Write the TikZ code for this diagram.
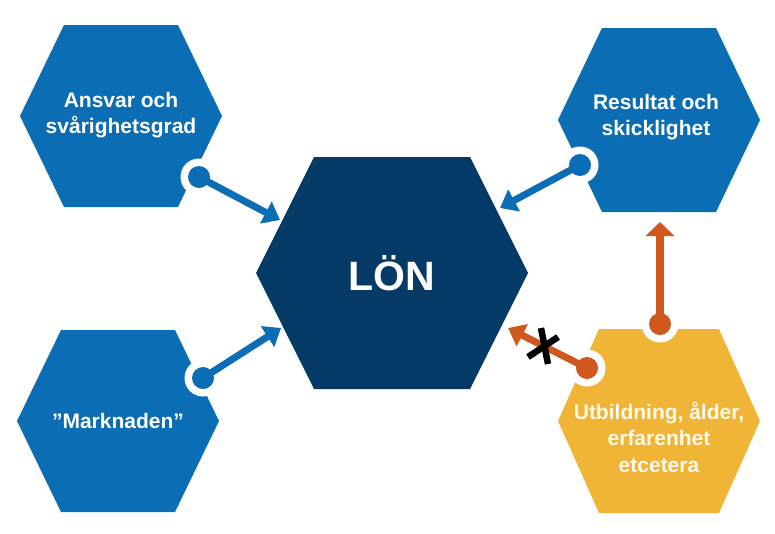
\documentclass[tikz,border=0pt]{standalone}
\usepackage{fontspec}
\setmainfont{Liberation Sans}
\usetikzlibrary{arrows.meta}
\definecolor{hexblue}{RGB}{11,109,179}
\definecolor{hexnavy}{RGB}{5,58,102}
\definecolor{hexyellow}{RGB}{240,180,54}
\definecolor{arrorange}{RGB}{208,88,30}
\definecolor{cream}{RGB}{255,249,234}
% hexagon path: cx, cy, half width, half top width, half height
\newcommand\hexpath[5]{(#1-#3,#2) -- (#1-#4,#2-#5) -- (#1+#4,#2-#5) -- (#1+#3,#2) -- (#1+#4,#2+#5) -- (#1-#4,#2+#5) -- cycle}
\begin{document}
\begin{tikzpicture}[x=1pt,y=-1pt,
  bluehex/.style={fill=hexblue},
  navyhex/.style={fill=hexnavy},
  yellowhex/.style={fill=hexyellow},
  hexlabel/.style={text=white,font=\bfseries\fontsize{21}{26.5}\selectfont,align=center},
  bigl/.style={text=white,font=\bfseries\fontsize{41}{48}\selectfont},
  notch/.style={fill=white},
  bluedot/.style={fill=hexblue},
  orangedot/.style={fill=arrorange},
  bluearrow/.style={draw=hexblue,line width=7pt,-{Triangle[width=24pt,length=16pt]}},
  orangearrow/.style={draw=arrorange,line width=7pt,-{Triangle[width=24pt,length=16pt]}},
  orangeup/.style={draw=arrorange,line width=7.5pt,-{Triangle[width=28pt,length=14pt]}},
  cross/.style={draw=black,line width=6.5pt}
]
\useasboundingbox (0,0) rectangle (775,533);

% hexagons
\fill[bluehex]   \hexpath{121}{116}{101}{57}{91};
\fill[bluehex]   \hexpath{659}{120}{101}{57}{92};
\fill[bluehex]   \hexpath{118}{421}{101}{57}{91};
\fill[yellowhex] \hexpath{659}{421}{101}{60}{92};
\fill[navyhex]   \hexpath{392}{273}{136}{78}{116};

% labels
\node[hexlabel] (ansvar) at (121,115) {Ansvar och\\svårighetsgrad};
\node[hexlabel] (resultat) at (656,117) {Resultat och\\skicklighet};
\node[hexlabel] (marknaden) at (118,421) {”Marknaden”};
\node[hexlabel,text=cream] (utb) at (659,437) {Utbildning, ålder,\\erfarenhet\\etcetera};
\node[bigl] (lon) at (392,273) {LÖN};

% connector end points
\coordinate (dTL) at (199,177);
\coordinate (dTR) at (580,165);
\coordinate (dBL) at (203,378);
\coordinate (dYT) at (660,324);
\coordinate (dYL) at (587,368);
\coordinate (tTL) at (280,220);
\coordinate (tTR) at (500,208);
\coordinate (tBL) at (281,328);
\coordinate (tYL) at (508,328);
\coordinate (tYT) at (660,222);

% notches
\foreach \p in {dTL,dTR,dBL,dYT,dYL} \fill[notch] (\p) circle[radius=18.5pt];

% arrows
\draw[bluearrow] (dTL) -- (tTL);
\draw[bluearrow] (dTR) -- (tTR);
\draw[bluearrow] (dBL) -- (tBL);
\draw[orangearrow] (dYL) -- (tYL);
\draw[orangeup] (dYT) -- (tYT);

% dots
\foreach \p in {dTL,dTR,dBL} \fill[bluedot] (\p) circle[radius=11pt];
\foreach \p in {dYT,dYL} \fill[orangedot] (\p) circle[radius=11pt];

% cross on the crossed-out arrow
\coordinate (xa1) at (528,357);
\coordinate (xa2) at (558,337);
\coordinate (xb1) at (541,328);
\coordinate (xb2) at (548,364);
\draw[cross] (xa1) -- (xa2);
\draw[cross] (xb1) -- (xb2);
\end{tikzpicture}
\end{document}
